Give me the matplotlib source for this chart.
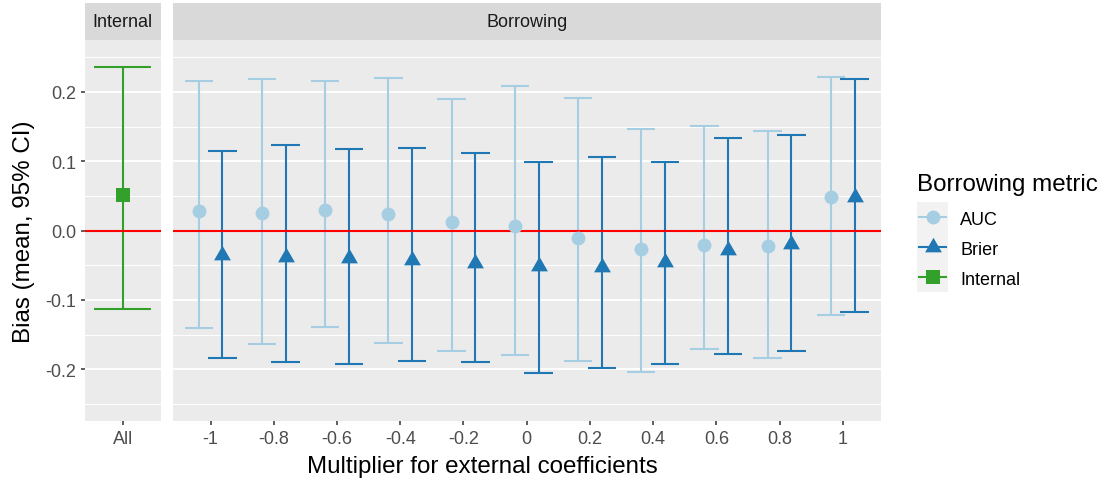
import matplotlib
matplotlib.use("Agg")
import matplotlib.pyplot as plt
from matplotlib.path import Path
import numpy as np

# ---------------- data ----------------
multipliers = ["-1", "-0.8", "-0.6", "-0.4", "-0.2", "0", "0.2", "0.4", "0.6", "0.8", "1"]
auc_mean = [0.029, 0.025, 0.030, 0.0245, 0.012, 0.006, -0.011, -0.026, -0.020, -0.0216, 0.049]
auc_lower = [-0.140, -0.163, -0.1385, -0.162, -0.174, -0.179, -0.188, -0.204, -0.170, -0.184, -0.121]
auc_upper = [0.216, 0.219, 0.216, 0.220, 0.190, 0.209, 0.191, 0.146, 0.151, 0.1435, 0.221]
brier_mean = [-0.035, -0.038, -0.040, -0.043, -0.0466, -0.051, -0.052, -0.0456, -0.028, -0.019, 0.048]
brier_lower = [-0.184, -0.190, -0.193, -0.1885, -0.189, -0.205, -0.1986, -0.193, -0.178, -0.173, -0.118]
brier_upper = [0.1146, 0.124, 0.1175, 0.119, 0.1117, 0.0996, 0.106, 0.0987, 0.134, 0.138, 0.219]
internal_labels = ["All"]
internal_mean = [0.052]
internal_lower = [-0.113]
internal_upper = [0.236]
legend_labels = ["AUC", "Brier", "Internal"]

# ---------------- style ----------------
C_AUC, C_BRIER, C_INT = "#a6cee3", "#1f78b4", "#33a02c"
PANEL_BG, STRIP_BG = "#ebebeb", "#d9d9d9"
FONT = ["Liberation Sans", "DejaVu Sans"]
plt.rcParams["font.family"] = FONT
SMALL, BIG = 13, 17.4
LW = 1.5
MS_CIRCLE, MS_TRI, MS_SQ = 10, 14, 10

# triangle with its centroid at the marker origin (like R's pch 17)
tri = Path([(0, 1), (-0.8660254, -0.5), (0.8660254, -0.5), (0, 1)],
           [Path.MOVETO, Path.LINETO, Path.LINETO, Path.CLOSEPOLY])

W, H = 1105, 481
fig = plt.figure(figsize=(W / 100, H / 100), dpi=100)

P_TOP, P_BOT = 41, 422.3
S_TOP = 4
int_l, int_r = 85, 160.7
bor_l, bor_r = 172.7, 880.7


def rect(l, t, r, b):
    return [l / W, 1 - b / H, (r - l) / W, (b - t) / H]


ax_int = fig.add_axes(rect(int_l, P_TOP, int_r, P_BOT))
ax_bor = fig.add_axes(rect(bor_l, P_TOP, bor_r, P_BOT))

YLIM = (-0.275, 0.275)
for ax in (ax_int, ax_bor):
    ax.set_facecolor(PANEL_BG)
    for s in ax.spines.values():
        s.set_visible(False)
    ax.set_ylim(*YLIM)
    ax.set_yticks([-0.2, -0.1, 0.0, 0.1, 0.2])
    ax.set_yticks([-0.25, -0.15, -0.05, 0.05, 0.15, 0.25], minor=True)
    ax.grid(which="major", axis="y", color="white", lw=1.3)
    ax.grid(which="minor", axis="y", color="white", lw=0.7)
    ax.set_axisbelow(True)
    ax.tick_params(axis="both", which="major", length=3.2, width=1.1, color="#333333",
                   labelcolor="#4d4d4d", labelsize=SMALL, pad=3)
    ax.tick_params(axis="y", which="minor", length=0)

ax_int.set_yticklabels(["-0.2", "-0.1", "0.0", "0.1", "0.2"])
ax_bor.tick_params(axis="y", which="both", left=False, labelleft=False)

# ---- internal panel ----
xi = np.arange(1, len(internal_labels) + 1)
ax_int.set_xlim(0.4, len(internal_labels) + 0.6)
ax_int.set_xticks(xi)
ax_int.set_xticklabels(internal_labels)
cap_i = 0.45
ax_int.vlines(xi, internal_lower, internal_upper, color=C_INT, lw=LW, zorder=3)
ax_int.hlines(internal_lower, xi - cap_i, xi + cap_i, color=C_INT, lw=LW, zorder=3)
ax_int.hlines(internal_upper, xi - cap_i, xi + cap_i, color=C_INT, lw=LW, zorder=3)
ax_int.axhline(0, color="red", lw=1.5, zorder=4)
ax_int.plot(xi, internal_mean, ls="none", marker="s", ms=MS_SQ, mew=0, color=C_INT, zorder=5)

# ---- borrowing panel ----
xb = np.arange(1, len(multipliers) + 1)
ax_bor.set_xlim(0.4, len(multipliers) + 0.6)
ax_bor.set_xticks(xb)
ax_bor.set_xticklabels(multipliers)
dodge = 0.1875
cap_b = 0.225
series = [
    (xb - dodge, auc_mean, auc_lower, auc_upper, C_AUC, "o", MS_CIRCLE),
    (xb + dodge, brier_mean, brier_lower, brier_upper, C_BRIER, tri, MS_TRI),
]
for xs, m, lo, hi, c, mk, ms in series:
    ax_bor.vlines(xs, lo, hi, color=c, lw=LW, zorder=3)
    ax_bor.hlines(lo, xs - cap_b, xs + cap_b, color=c, lw=LW, zorder=3)
    ax_bor.hlines(hi, xs - cap_b, xs + cap_b, color=c, lw=LW, zorder=3)
ax_bor.axhline(0, color="red", lw=1.5, zorder=4)
for xs, m, lo, hi, c, mk, ms in series:
    ax_bor.plot(xs, m, ls="none", marker=mk, ms=ms, color=c, mew=0, zorder=5)

# ---- strips ----
for (l, r), label in (((int_l, int_r), "Internal"), ((bor_l, bor_r), "Borrowing")):
    sa = fig.add_axes(rect(l, S_TOP, r, P_TOP))
    sa.set_facecolor(STRIP_BG)
    sa.set_xticks([])
    sa.set_yticks([])
    for s in sa.spines.values():
        s.set_visible(False)
    sa.text(0.5, 0.5, label, ha="center", va="center", fontsize=SMALL,
            color="#1a1a1a", transform=sa.transAxes)

# ---- axis titles ----
fig.text((int_l + bor_r) / 2 / W, 1 - 473.5 / H, "Multiplier for external coefficients",
         ha="center", va="baseline", fontsize=BIG, color="black")
fig.text(24 / W, 1 - (P_TOP + P_BOT) / 2 / H, "Bias (mean, 95% CI)", rotation=90,
         ha="center", va="center", fontsize=BIG, color="black")

# ---- legend ----
fig.text(917 / W, 1 - 190.7 / H, "Borrowing metric", ha="left", va="baseline",
         fontsize=BIG, color="black")
lg = fig.add_axes(rect(917, 203.3, 948, 293.3))
lg.set_facecolor("#f2f2f2")
lg.set_xlim(0, 1)
lg.set_ylim(3, 0)
lg.set_xticks([])
lg.set_yticks([])
for s in lg.spines.values():
    s.set_visible(False)
leg_styles = [(C_AUC, "o", MS_CIRCLE), (C_BRIER, tri, MS_TRI), (C_INT, "s", MS_SQ)]
for i, (lab, (c, mk, ms)) in enumerate(zip(legend_labels, leg_styles)):
    yc = i + 0.5
    lg.plot([0.06, 0.94], [yc, yc], color=c, lw=LW)
    lg.plot([0.5], [yc], marker=mk, ms=ms, color=c, mew=0, ls="none")
    fig.text(960 / W, 1 - (203.3 + 30 * i + 15) / H, lab, ha="left", va="center_baseline",
             fontsize=SMALL, color="black")

fig.savefig("out.png", dpi=100)
